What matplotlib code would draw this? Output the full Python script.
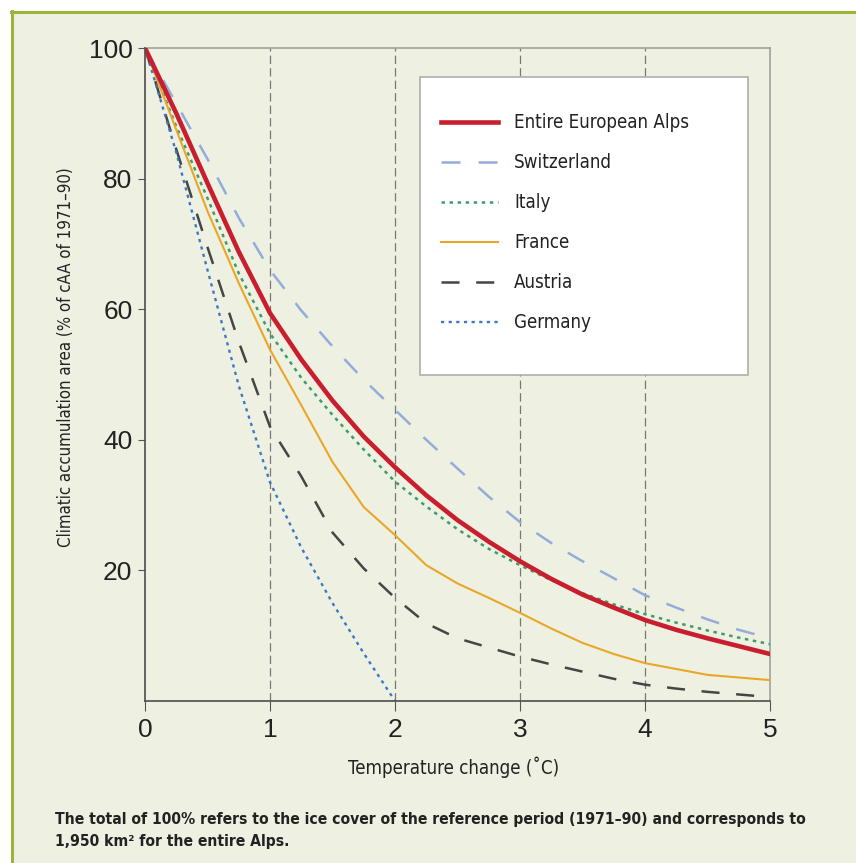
import matplotlib
matplotlib.use("Agg")
import matplotlib.pyplot as plt
from matplotlib import font_manager as fm
from matplotlib.font_manager import FontProperties
from matplotlib.patches import Rectangle
from matplotlib.lines import Line2D

# data
temp = [0, 0.25, 0.5, 0.75, 1, 1.25, 1.5, 1.75, 2, 2.25, 2.5,
        2.75, 3, 3.25, 3.5, 3.75, 4, 4.25, 4.5, 4.75, 5]
alps = [100, 90, 79.3, 68.8, 59.4, 52.3, 46, 40.5, 35.8, 31.5, 27.7,
        24.4, 21.4, 18.7, 16.3, 14.3, 12.4, 10.9, 9.6, 8.4, 7.2]
swiss = [100, 91.5, 83, 74, 66, 59.8, 54.3, 49.2, 44.6, 40, 35.6,
         31.3, 27.4, 24.2, 21.4, 18.8, 16.2, 14.3, 12.5, 10.9, 9.6]
italy = [100, 88, 77, 65.5, 56.3, 49.5, 43.8, 38.5, 33.6, 29.8, 26.3,
         23.3, 20.8, 18.5, 16.5, 14.8, 13.3, 12, 10.8, 9.7, 8.7]
france = [100, 87.5, 75, 64, 53.8, 45.3, 36.6, 29.7, 25.4, 20.8, 18,
          15.8, 13.5, 11.1, 8.9, 7.2, 5.8, 4.9, 4.0, 3.6, 3.2]
austria = [100, 84.5, 69.5, 55, 42, 34.4, 25.8, 20.3, 15.8, 11.9, 9.6,
           8.2, 6.8, 5.6, 4.5, 3.4, 2.5, 1.9, 1.4, 1.0, 0.6]
germany_temp = [0, 0.25, 0.5, 0.75, 1, 1.25, 1.5, 1.75, 2]
germany = [100, 84, 66, 48.3, 33.5, 23.5, 15, 7.3, 0]

labels = ["Entire European Alps", "Switzerland", "Italy", "France", "Austria", "Germany"]
xticks = [0, 1, 2, 3, 4, 5]
gridx = [1, 2, 3, 4]
yticks = [20, 40, 60, 80, 100]

W, H = 856, 863
plt.rcParams["font.family"] = ["Liberation Sans", "DejaVu Sans"]
plt.rcParams["lines.scale_dashes"] = False

names = {f.name for f in fm.fontManager.ttflist}
if "Liberation Sans Narrow" in names:
    cond = dict(family="Liberation Sans Narrow")
else:
    cond = dict(family="DejaVu Sans", stretch="condensed")

fig = plt.figure(figsize=(W / 100, H / 100), dpi=100)
fig.patch.set_facecolor("white")
fig.patches.append(Rectangle((12 / W, 0), 1 - 12 / W, 1 - 12 / H, transform=fig.transFigure,
                             fc="#eef1e1", ec="none", zorder=-10))
green = "#9ab53a"
fig.lines.append(Line2D([11 / W, 1], [1 - 12 / H] * 2, transform=fig.transFigure,
                        color=green, lw=2.2, zorder=-5))
fig.lines.append(Line2D([12 / W] * 2, [0, 1 - 11 / H], transform=fig.transFigure,
                        color=green, lw=2.2, zorder=-5))

ax = fig.add_axes([145 / W, 1 - 701 / H, 625 / W, 653 / H])
ax.set_facecolor("none")

# dashed vertical guides
for g in gridx:
    ax.axvline(g, color="#777777", lw=0.9, ls=(0, (6, 3)), zorder=1)

ax.plot(temp, alps, color="#c81e2e", lw=3.3, zorder=4, label=labels[0])
ax.plot(temp, swiss, color="#93acdc", lw=1.8, ls=(0, (13.7, 13)), zorder=3, label=labels[1])
ax.plot(temp, italy, color="#3d9b6c", lw=1.8, ls=(0, (2.5, 3.3)), zorder=3, label=labels[2])
ax.plot(temp, france, color="#e9a628", lw=1.5, zorder=3, label=labels[3])
ax.plot(temp, austria, color="#454545", lw=1.8, ls=(0, (13, 12)), zorder=3, label=labels[4])
ax.plot(germany_temp, germany, color="#3a77c6", lw=1.7, ls=(0, (2.3, 3.2)), zorder=3, label=labels[5])

ax.set_xlim(0, 5)
ax.set_ylim(0, 100)
ax.set_xticks(xticks)
ax.set_yticks(yticks)
for s in ["left", "bottom"]:
    ax.spines[s].set_color("#4d4d4d")
    ax.spines[s].set_linewidth(1.2)
    ax.spines[s].set_zorder(7)
for s in ["top", "right"]:
    ax.spines[s].set_color("#9a9a9a")
    ax.spines[s].set_linewidth(1.1)
ax.tick_params(axis="x", direction="out", length=7, width=0.8, color="#555555",
               pad=5, labelsize=19, labelcolor="#222222")
ax.tick_params(axis="y", direction="out", length=5, width=0.8, color="#555555",
               pad=4, labelsize=19, labelcolor="#222222")

# white legend box
ax.add_patch(Rectangle(((420 - 145) / 625, (701 - 375) / 653), (748 - 420) / 625, (375 - 77) / 653,
                       transform=ax.transAxes, fc="white", ec="#a8a8a8", lw=1.1, zorder=5))

fig.canvas.draw()
r = fig.canvas.get_renderer()


def fit(t, target, vertical=False):
    bb = t.get_window_extent(r)
    w = bb.height if vertical else bb.width
    t.set_fontsize(t.get_fontsize() * target / w)


xl = fig.text(454 / W, 1 - 767 / H, "Temperature change (˚C)", ha="center", va="center",
              color="#222222", fontsize=12, **cond)
fit(xl, 212)
yl = fig.text(66 / W, 1 - 357 / H, "Climatic accumulation area (% of cAA of 1971–90)",
              rotation=90, ha="center", va="center", color="#222222", fontsize=12, **cond)
fit(yl, 380, vertical=True)

c1 = fig.text(55 / W, 1 - 824 / H,
              "The total of 100% refers to the ice cover of the reference period (1971–90) and corresponds to",
              ha="left", va="baseline", color="#222222", fontsize=12, fontweight="bold", **cond)
fit(c1, 751)
fig.text(55 / W, 1 - 846 / H, "1,950 km² for the entire Alps.", ha="left", va="baseline",
         color="#222222", fontsize=c1.get_fontsize(), fontweight="bold", **cond)

# legend font size fitted to the reference label width
tmp = fig.text(0, 0, labels[0], fontsize=12, **cond)
fit(tmp, 175)
fs = tmp.get_fontsize()
th = tmp.get_window_extent(r).height
tmp.remove()
fs_px = fs * 100 / 72
prop = FontProperties(size=fs, **cond)
leg = ax.legend(prop=prop, frameon=False, borderpad=0, borderaxespad=0,
                handlelength=57 / fs_px, handletextpad=16 / fs_px,
                labelspacing=(40 - th) / fs_px,
                loc="upper left", bbox_to_anchor=(441 / W, 1 - (123 - th / 2) / H),
                bbox_transform=fig.transFigure, labelcolor="#222222")
leg.set_zorder(6)

fig.savefig("out.png", dpi=100, facecolor=fig.get_facecolor())
